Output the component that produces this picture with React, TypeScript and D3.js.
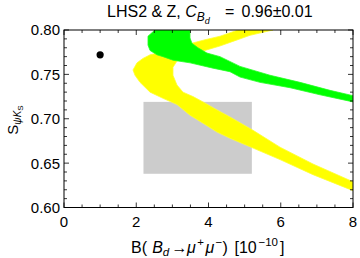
import React from "react";
import * as d3 from "d3";

// ---- data ----
const xTicks = [0, 2, 4, 6, 8];
const yTicks = [0.6, 0.65, 0.7, 0.75, 0.8];
const xDomain: [number, number] = [0, 8];
const yDomain: [number, number] = [0.6, 0.8];

// experimental 2σ box: B(Bd→μμ) range and S_ψKS range
const expBoxB = [2.2, 5.2];
const expBoxS = [0.638, 0.719];

// SM point
const smPoint = [1.0, 0.772];

// yellow scatter region outline [B, S]
const yellowBand: [number, number][] = [
  [5.786, 0.8], [5.149, 0.794], [4.734, 0.788], [4.318, 0.782], [3.903, 0.777],
  [3.543, 0.774], [3.128, 0.765], [3.017, 0.758], [3.017, 0.749], [3.128, 0.738],
  [3.294, 0.73], [3.571, 0.725], [3.848, 0.719], [4.235, 0.71], [4.595, 0.702],
  [5.232, 0.687], [5.979, 0.668], [6.893, 0.649], [8.0, 0.629], [8.0, 0.619],
  [6.893, 0.637], [5.979, 0.654], [5.232, 0.667], [4.595, 0.678], [4.235, 0.685],
  [3.848, 0.695], [3.488, 0.704], [3.128, 0.716], [2.74, 0.723], [2.381, 0.73],
  [2.104, 0.741], [1.965, 0.749], [1.91, 0.755], [2.021, 0.763], [2.187, 0.768],
  [2.381, 0.772], [2.602, 0.774], [2.934, 0.777], [3.433, 0.784], [3.903, 0.789],
  [4.318, 0.793], [4.817, 0.8],
];

// green scatter region outline [B, S]
const greenBand: [number, number][] = [
  [2.519, 0.8], [3.488, 0.8], [3.488, 0.791], [3.543, 0.785], [3.709, 0.78],
  [3.958, 0.774], [4.318, 0.77], [4.872, 0.759], [5.702, 0.749], [6.533, 0.741],
  [7.363, 0.732], [8.0, 0.726], [8.0, 0.719], [7.087, 0.727], [6.256, 0.735],
  [5.426, 0.741], [4.872, 0.747], [4.595, 0.753], [4.125, 0.757], [3.488, 0.763],
  [3.017, 0.766], [2.74, 0.77], [2.574, 0.772], [2.381, 0.777], [2.325, 0.783],
  [2.325, 0.793],
];

const W = 360;
const H = 258;
const M = { left: 64, right: 353, top: 30, bottom: 207.5 };
const FONT = "'Liberation Sans', Arial, sans-serif";

export default function App() {
  const x = d3.scaleLinear().domain(xDomain).range([M.left, M.right]);
  const y = d3.scaleLinear().domain(yDomain).range([M.bottom, M.top]);

  const area = d3
    .line<[number, number]>()
    .x((d) => x(d[0]))
    .y((d) => y(d[1]))
    .curve(d3.curveLinearClosed);

  const xMinor = d3.range(0, 8.0001, 0.5);
  const yMinor = d3.range(0, 21).map((i) => 0.6 + i * 0.01);
  const isMajorX = (v: number) => Math.abs(v / 2 - Math.round(v / 2)) < 1e-6;
  const isMajorY = (v: number) =>
    Math.abs((v - 0.6) / 0.05 - Math.round((v - 0.6) / 0.05)) < 1e-6;

  const major = 5;
  const minor = 3;
  const xlBase = 252.5;
  const sup = xlBase - 6.5;

  return (
    <svg
      width={W}
      height={H}
      style={{ position: "absolute", left: 0, top: 0, background: "#fff" }}
      fontFamily={FONT}
    >
      <defs>
        <clipPath id="plot">
          <rect x={M.left} y={M.top} width={M.right - M.left} height={M.bottom - M.top} />
        </clipPath>
      </defs>
      <rect width={W} height={H} fill="#fff" />
      <g clipPath="url(#plot)">
        <rect
          x={x(expBoxB[0])}
          y={y(expBoxS[1])}
          width={x(expBoxB[1]) - x(expBoxB[0])}
          height={y(expBoxS[0]) - y(expBoxS[1])}
          fill="#cccccc"
        />
        <path d={area(yellowBand) || ""} fill="#ffff00" stroke="#ffff33" strokeWidth={0.8} />
        <path d={area(greenBand) || ""} fill="#00ff00" stroke="#22ff22" strokeWidth={0.8} />
        <circle cx={x(smPoint[0])} cy={y(smPoint[1])} r={3.6} fill="#000" />
      </g>

      <rect
        x={M.left}
        y={M.top}
        width={M.right - M.left}
        height={M.bottom - M.top}
        fill="none"
        stroke="#000"
        strokeWidth={1}
      />

      {xMinor.map((v) => {
        const len = isMajorX(v) ? major : minor;
        return (
          <g key={"xt" + v} stroke="#000" strokeWidth={0.8}>
            <line x1={x(v)} x2={x(v)} y1={M.bottom} y2={M.bottom - len} />
            <line x1={x(v)} x2={x(v)} y1={M.top} y2={M.top + len} />
          </g>
        );
      })}
      {yMinor.map((v) => {
        const len = isMajorY(v) ? major : minor;
        return (
          <g key={"yt" + v} stroke="#000" strokeWidth={0.8}>
            <line x1={M.left} x2={M.left + len} y1={y(v)} y2={y(v)} />
            <line x1={M.right} x2={M.right - len} y1={y(v)} y2={y(v)} />
          </g>
        );
      })}

      {xTicks.map((v) => (
        <text key={"xl" + v} x={x(v)} y={227} textAnchor="middle" fontSize={15} fill="#000">
          {v}
        </text>
      ))}
      {yTicks.map((v) => (
        <text
          key={"yl" + v}
          x={60}
          y={y(v)}
          dy="0.36em"
          textAnchor="end"
          fontSize={15}
          fill="#000"
        >
          {v.toFixed(2)}
        </text>
      ))}

      {/* title */}
      <text y={16.7} fontSize={16} fill="#000">
        <tspan x={107}>LHS2 &amp; Z, </tspan>
        <tspan fontStyle="italic">C</tspan>
        <tspan fontStyle="italic" fontSize={12} dy={4}>B</tspan>
        <tspan fontStyle="italic" fontSize={9} dy={3}>d</tspan>
        <tspan x={225} dy={-7}>=</tspan>
        <tspan x={241.5}>0.96±0.01</tspan>
      </text>

      {/* x label */}
      <text fontSize={16} fill="#000">
        <tspan x={131} y={xlBase}>B(</tspan>
        <tspan x={152.2} y={xlBase} fontStyle="italic">B</tspan>
        <tspan fontStyle="italic" fontSize={11.5} y={xlBase + 3}>d</tspan>
        <tspan x={171.5} y={xlBase}>→</tspan>
        <tspan x={187} y={xlBase} fontStyle="italic">μ</tspan>
        <tspan x={197.2} y={sup} fontSize={11.5}>+</tspan>
        <tspan x={205.5} y={xlBase} fontStyle="italic">μ</tspan>
        <tspan x={215.5} y={sup} fontSize={11.5}>−</tspan>
        <tspan x={222.5} y={xlBase}>)</tspan>
        <tspan x={234.5} y={xlBase}>[10</tspan>
        <tspan x={258.5} y={sup} fontSize={11.5}>−10</tspan>
        <tspan x={280} y={xlBase}>]</tspan>
      </text>

      {/* y label */}
      <text transform="translate(18,120) rotate(-90)" textAnchor="middle" fontSize={15} fill="#000">
        <tspan>S</tspan>
        <tspan fontSize={10} dy={3} fontStyle="italic">ψK</tspan>
        <tspan fontSize={8} dy={2}>S</tspan>
      </text>
    </svg>
  );
}
